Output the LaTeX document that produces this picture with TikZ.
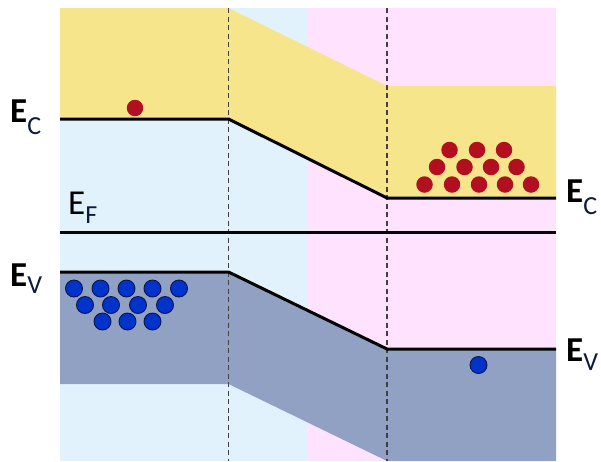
\documentclass[tikz,border=0pt]{standalone}
\usepackage{fontspec}
\setmainfont{Carlito}
\definecolor{nside}{RGB}{226,242,253}
\definecolor{pside}{RGB}{254,226,254}
\definecolor{cband}{RGB}{247,229,139}
\definecolor{vband}{RGB}{145,161,196}
\definecolor{elec}{RGB}{178,16,32}
\definecolor{hole}{RGB}{0,51,204}
\definecolor{holeedge}{RGB}{10,20,70}
\definecolor{subtxt}{RGB}{15,25,60}
\tikzset{
  level/.style={line width=3pt, line join=miter, black},
  boundary/.style={line width=1.2pt, black!75, dash pattern=on 5pt off 3.5pt},
  electron/.style={circle, fill=elec, inner sep=0pt, minimum size=16.5pt},
  holept/.style={circle, fill=hole, draw=holeedge, line width=0.9pt, inner sep=0pt, minimum size=17pt},
  elabel/.style={inner sep=0pt, anchor=base west, font=\fontsize{35}{35}\selectfont},
}
\newcommand{\lvl}[3]{{#1E}\raisebox{#3}{\fontsize{26}{26}\selectfont\color{subtxt}#2}}
\begin{document}
\begin{tikzpicture}[x=1pt,y=-1pt]
\useasboundingbox (0,0) rectangle (601,461);
% regions
\fill[nside] (60,8) rectangle (308,461);
\fill[pside] (308,8) rectangle (556,461);
% conduction band
\fill[cband] (60,8) -- (228.5,8) -- (387,86) -- (556,86) -- (556,198) -- (387,198) -- (228.5,119) -- (60,119) -- cycle;
% valence band
\fill[vband] (60,272) -- (228.5,272) -- (387,349) -- (556,349) -- (556,461) -- (387,461) -- (228.5,384) -- (60,384) -- cycle;
% junction boundaries
\draw[boundary] (228.5,8) -- (228.5,461);
\draw[boundary] (387,8) -- (387,461);
% band edges and Fermi level
\draw[level] (60,119) -- (228.5,119) -- (387,198) -- (556,198);
\draw[level] (60,232) -- (556,232);
\draw[level] (60,272) -- (228.5,272) -- (387,349) -- (556,349);
% electrons
\node[electron] (e0) at (135,108) {};
\foreach \x [count=\i] in {424.5,452,479,505,531} \node[electron] (eb\i) at (\x,184.5) {};
\foreach \x [count=\i] in {437,464.5,491,516.5} \node[electron] (em\i) at (\x,167) {};
\foreach \x [count=\i] in {449.5,477,504} \node[electron] (et\i) at (\x,150) {};
% holes
\foreach \x [count=\i] in {74,100.5,126.5,152.5,179} \node[holept] (ha\i) at (\x,288.5) {};
\foreach \x [count=\i] in {85,111,138,165} \node[holept] (hb\i) at (\x,305) {};
\foreach \x [count=\i] in {102.5,127.5,152.5} \node[holept] (hc\i) at (\x,321.5) {};
\node[holept] (h0) at (478.5,365) {};
% labels
\node[elabel] (ecl) at (10,122) {\lvl{\bfseries}{C}{-12pt}};
\node[elabel] (ecr) at (566,202) {\lvl{\bfseries}{C}{-12pt}};
\node[elabel] (evl) at (10,286) {\lvl{\bfseries}{V}{-7pt}};
\node[elabel] (evr) at (566,361) {\lvl{\bfseries}{V}{-9pt}};
\node[elabel] (ef) at (68,214) {\lvl{}{F}{-9pt}};
\end{tikzpicture}
\end{document}
